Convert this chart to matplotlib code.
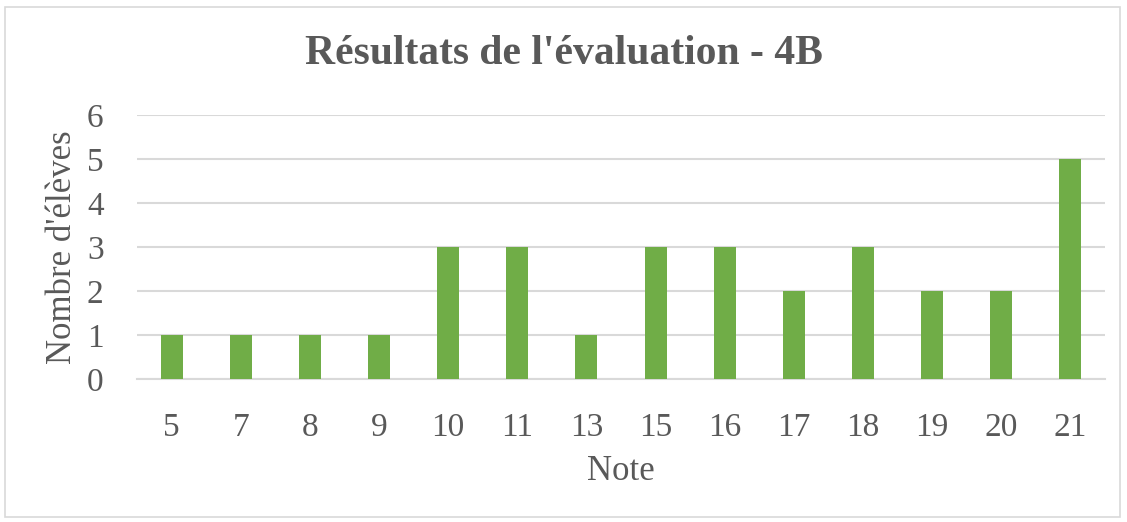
import matplotlib
matplotlib.use('Agg')
import matplotlib.pyplot as plt
from matplotlib.patches import Rectangle

# data
notes = ['5', '7', '8', '9', '10', '11', '13', '15', '16', '17', '18', '19', '20', '21']
nb_eleves = [1, 1, 1, 1, 3, 3, 1, 3, 3, 2, 3, 2, 2, 5]

txt = '#595959'
plt.rcParams['font.family'] = ['Liberation Serif', 'DejaVu Serif']

fig = plt.figure(figsize=(11.27, 5.22), dpi=100)
ax = fig.add_axes([137/1127, 1-379/522, (1105-137)/1127, (379-115)/522])

x = range(len(notes))
ax.bar(x, nb_eleves, width=0.32, color='#70AD47', zorder=3)
ax.set_xlim(-0.5, len(notes)-0.5)
ax.set_ylim(0, 6)
ax.set_yticks(range(7))
ax.set_xticks(list(x))
ax.set_xticklabels(notes)
ax.grid(axis='y', color='#D9D9D9', linewidth=1.5, zorder=0)
for s in ['top', 'right', 'left']:
    ax.spines[s].set_visible(False)
ax.spines['bottom'].set_color('#D9D9D9')
ax.spines['bottom'].set_linewidth(1.5)
ax.tick_params(length=0, labelsize=24, colors=txt)
ax.tick_params(axis='x', pad=24)
ax.tick_params(axis='y', pad=24)

ax.set_xlabel('Note', fontsize=25, color=txt, labelpad=9)
ax.set_ylabel("Nombre d'élèves", fontsize=25, color=txt, labelpad=6)
fig.text(0.5, 1-54/522, "Résultats de l'évaluation - 4B", ha='center', va='center',
         fontsize=30, fontweight='bold', color=txt)

# chart border
fig.patches.append(Rectangle((5/1127, 5/522), 1115/1127, 510/522, transform=fig.transFigure,
                             fill=False, edgecolor='#D9D9D9', linewidth=1.2))

fig.savefig('out.png', dpi=100)
